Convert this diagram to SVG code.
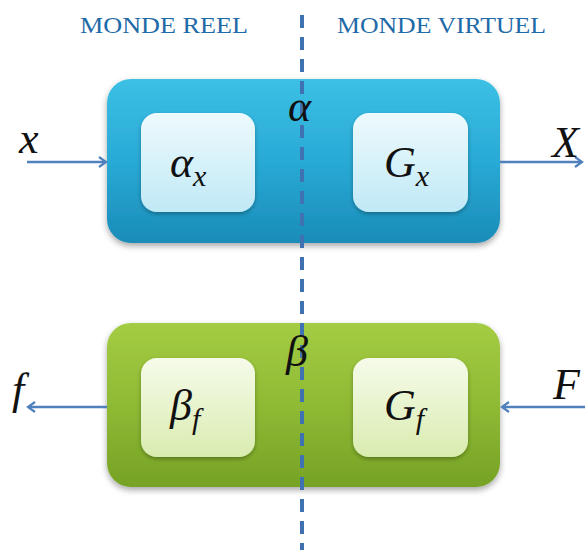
<svg xmlns="http://www.w3.org/2000/svg" width="585" height="550" viewBox="0 0 585 550">
<defs>
<linearGradient id="gBlue" x1="0" y1="0" x2="0" y2="1">
<stop offset="0" stop-color="#3cc0e4"/><stop offset="0.5" stop-color="#29aad6"/><stop offset="1" stop-color="#1a8cb8"/>
</linearGradient>
<linearGradient id="gBlueIn" x1="0" y1="0" x2="0" y2="1">
<stop offset="0" stop-color="#eefafd"/><stop offset="1" stop-color="#c0e9f6"/>
</linearGradient>
<linearGradient id="gGreen" x1="0" y1="0" x2="0" y2="1">
<stop offset="0" stop-color="#a4cc44"/><stop offset="0.5" stop-color="#8fba34"/><stop offset="1" stop-color="#76a226"/>
</linearGradient>
<linearGradient id="gGreenIn" x1="0" y1="0" x2="0" y2="1">
<stop offset="0" stop-color="#f6fbea"/><stop offset="1" stop-color="#d9ecb0"/>
</linearGradient>
<filter id="sh" x="-10%" y="-10%" width="120%" height="130%">
<feDropShadow dx="0" dy="3" stdDeviation="3" flood-color="#000" flood-opacity="0.35"/>
</filter>
<filter id="shIn" x="-10%" y="-10%" width="120%" height="130%">
<feDropShadow dx="0" dy="2" stdDeviation="2" flood-color="#000" flood-opacity="0.3"/>
</filter>
<marker id="ah" markerWidth="12" markerHeight="12" refX="9" refY="6" orient="auto" markerUnits="userSpaceOnUse">
<path d="M2,1 L9,6 L2,11" fill="none" stroke="#4f81bd" stroke-width="2.2"/>
</marker>
</defs>
<style>
.hdr{font-family:"Liberation Serif",serif;font-size:23px;fill:#1f6aa8;}
.math{font-family:"Liberation Serif",serif;font-style:italic;fill:#111;}
.big{font-size:44px;}
.sub{font-size:30px;}
.conn{stroke:#4f81bd;stroke-width:2.5;fill:none;}
.divider{stroke:#3f72b0;stroke-width:4;stroke-dasharray:13 9;fill:none;}
</style>
<rect width="585" height="550" fill="#fff"/>
<text class="hdr" x="80" y="33" textLength="168" lengthAdjust="spacingAndGlyphs">MONDE  REEL</text>
<text class="hdr" x="337" y="33" textLength="209" lengthAdjust="spacingAndGlyphs">MONDE  VIRTUEL</text>
<g id="alpha">
<rect x="107" y="79" width="393" height="164" rx="24" fill="url(#gBlue)" filter="url(#sh)"/>
</g>
<g id="beta">
<rect x="107" y="323" width="393" height="164" rx="24" fill="url(#gGreen)" filter="url(#sh)"/>
</g>
<line id="divider" class="divider" x1="302" y1="15" x2="302" y2="550"/>
<g id="alpha-x">
<rect x="141" y="113" width="114" height="99" rx="16" fill="url(#gBlueIn)" filter="url(#shIn)"/>
<text class="math" x="170" y="177"><tspan class="big">α</tspan><tspan class="sub" dy="9">x</tspan></text>
</g>
<g id="G-x">
<rect x="353" y="113" width="115" height="99" rx="16" fill="url(#gBlueIn)" filter="url(#shIn)"/>
<text class="math" x="384" y="177"><tspan class="big">G</tspan><tspan class="sub" dy="9">x</tspan></text>
</g>
<g id="beta-f">
<rect x="141" y="358" width="114" height="99" rx="16" fill="url(#gGreenIn)" filter="url(#shIn)"/>
<text class="math" x="170" y="420"><tspan class="big">β</tspan><tspan class="sub" dy="9">f</tspan></text>
</g>
<g id="G-f">
<rect x="353" y="358" width="115" height="99" rx="16" fill="url(#gGreenIn)" filter="url(#shIn)"/>
<text class="math" x="384" y="420"><tspan class="big">G</tspan><tspan class="sub" dy="9">f</tspan></text>
</g>
<text class="math big" x="288" y="121">α</text>
<text class="math big" x="286" y="366">β</text>
<g id="connectors">
<line class="conn" x1="27" y1="162" x2="106" y2="162" marker-end="url(#ah)"/>
<line class="conn" x1="500" y1="162" x2="582" y2="162" marker-end="url(#ah)"/>
<line class="conn" x1="107" y1="407" x2="28" y2="407" marker-end="url(#ah)"/>
<line class="conn" x1="585" y1="407" x2="502" y2="407" marker-end="url(#ah)"/>
</g>
<text class="math big" x="19" y="153">x</text>
<text class="math big" x="552" y="157">X</text>
<text class="math big" x="12" y="404">f</text>
<text class="math big" x="553" y="399">F</text>
</svg>
